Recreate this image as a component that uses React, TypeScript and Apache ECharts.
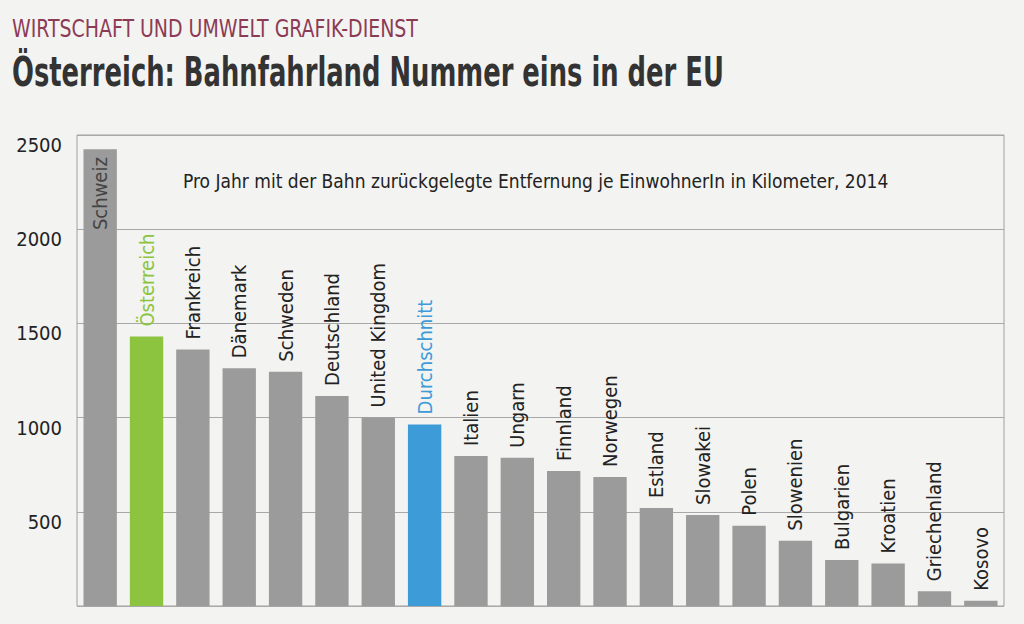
import React, { useEffect, useRef } from "react";
import * as echarts from "echarts";

const categories = [
  "Schweiz", "Österreich", "Frankreich", "Dänemark", "Schweden", "Deutschland",
  "United Kingdom", "Durchschnitt", "Italien", "Ungarn", "Finnland", "Norwegen",
  "Estland", "Slowakei", "Polen", "Slowenien", "Bulgarien", "Kroatien",
  "Griechenland", "Kosovo",
];
const values = [
  2425, 1430, 1362, 1262, 1244, 1115, 1001, 964, 796, 787, 717, 685,
  520, 483, 426, 347, 244, 225, 78, 28,
];
const yTicks = [0, 500, 1000, 1500, 2000, 2500];

const FONT = "'DejaVu Sans Condensed', 'Open Sans', sans-serif";
const GRAY = "#9b9b9b";
const GREEN = "#8cc43f";
const BLUE = "#3d9bd8";

export default function App() {
  const ref = useRef<HTMLDivElement>(null);
  useEffect(() => {
    if (!ref.current) return;
    const chart = echarts.init(ref.current, undefined, { renderer: "svg" });
    const data = categories.map((c, i) => {
      let color = GRAY;
      let labelColor = "#222";
      if (c === "Österreich") { color = GREEN; labelColor = GREEN; }
      if (c === "Durchschnitt") { color = BLUE; labelColor = BLUE; }
      const item: any = { value: values[i], itemStyle: { color }, label: { color: labelColor } };
      if (i === 0) {
        item.label = { position: "insideTop", align: "right", distance: 8, color: "#444" };
      }
      return item;
    });
    chart.setOption({
      animation: false,
      backgroundColor: "#f3f3f1",
      textStyle: { fontFamily: FONT },
      graphic: [
        {
          type: "text", x: 12, y: 16, scaleX: 0.877, scaleY: 1,
          style: {
            text: "WIRTSCHAFT UND UMWELT GRAFIK-DIENST",
            fontFamily: FONT, fontSize: 24, fill: "#8c3b55",
            verticalAlign: "top", align: "left",
          },
        },
        {
          type: "text", x: 12, y: 52, scaleX: 0.717, scaleY: 1,
          style: {
            text: "Österreich: Bahnfahrland Nummer eins in der EU",
            fontFamily: FONT, fontSize: 40, fontWeight: "bold", fill: "#333",
            verticalAlign: "top", align: "left",
          },
        },
        {
          type: "text", left: 183, top: 171,
          style: {
            text: "Pro Jahr mit der Bahn zurückgelegte Entfernung je EinwohnerIn in Kilometer, 2014",
            fontFamily: FONT, fontSize: 19, fill: "#222",
          },
        },
      ],
      grid: {
        left: 77, right: 20, top: 135, bottom: 18,
        show: true, borderColor: "#a0a0a0", borderWidth: 1, backgroundColor: "transparent",
      },
      xAxis: {
        type: "category",
        data: categories,
        axisLine: { show: false },
        axisTick: { show: false },
        axisLabel: { show: false },
      },
      yAxis: {
        type: "value",
        min: yTicks[0],
        max: yTicks[yTicks.length - 1],
        interval: 500,
        axisLine: { show: false },
        axisTick: { show: false },
        splitLine: { lineStyle: { color: "#a8a8a8", width: 1 } },
        axisLabel: {
          fontFamily: FONT, fontSize: 20, color: "#222", margin: 15,
          verticalAlign: "top",
          formatter: (v: number) => (v === 0 ? "" : String(v)),
        },
      },
      series: [
        {
          type: "bar",
          data,
          barWidth: "72%",
          label: {
            show: true,
            position: "top",
            rotate: 90,
            align: "left",
            verticalAlign: "middle",
            distance: 10,
            fontFamily: FONT,
            fontSize: 20,
            formatter: (p: any) => p.name,
          },
        },
      ],
    });
    return () => chart.dispose();
  }, []);
  return (
    <div
      ref={ref}
      style={{ position: "fixed", left: 0, top: 0, width: 1024, height: 624 }}
    />
  );
}
